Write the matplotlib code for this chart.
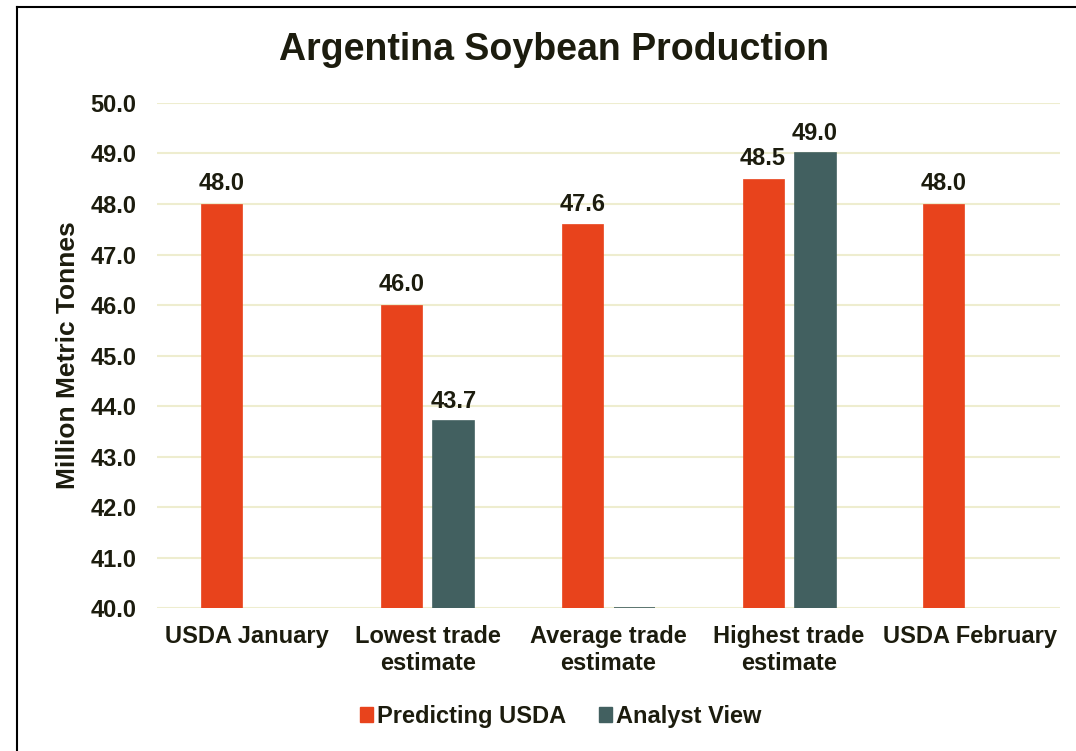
import matplotlib
matplotlib.use("Agg")
import matplotlib.pyplot as plt
from matplotlib.lines import Line2D
from matplotlib.patches import Patch
import numpy as np

categories = ["USDA January", "Lowest trade\nestimate", "Average trade\nestimate",
              "Highest trade\nestimate", "USDA February"]
predicting_usda = [48.0, 46.0, 47.6, 48.5, 48.0]
analyst_view = [None, 43.7, 40.0, 49.0, None]
pred_labels = ["48.0", "46.0", "47.6", "48.5", "48.0"]
analyst_labels = [None, "43.7", None, "49.0", None]
yticks = [40.0, 41.0, 42.0, 43.0, 44.0, 45.0, 46.0, 47.0, 48.0, 49.0, 50.0]

RED = "#E8431C"
GREY = "#426060"
TXT = "#1c1c0e"
GRID = "#EEEDCF"
FS = 17

plt.rcParams['font.family'] = ['Liberation Sans', 'DejaVu Sans']
plt.rcParams['font.weight'] = 'bold'

fig = plt.figure(figsize=(10.76, 7.51), dpi=100)
ax = fig.add_axes([0.146, 0.190, 0.839, 0.673])

x = np.arange(len(categories))
w = 0.227
off = 0.144
base = 40.0

for i, v in enumerate(predicting_usda):
    ax.bar(x[i] - off, v - base, width=w, bottom=base, color=RED, edgecolor=RED, linewidth=0.5, zorder=3)
    ax.text(x[i] - off, v + 0.17, pred_labels[i], ha='center', va='bottom', fontsize=FS,
            fontweight='bold', color=TXT)
for i, v in enumerate(analyst_view):
    if v is None:
        continue
    ax.bar(x[i] + off, v - base, width=w, bottom=base, color=GREY, edgecolor=GREY, linewidth=1.2, zorder=3)
    if analyst_labels[i]:
        ax.text(x[i] + off, v + 0.17, analyst_labels[i], ha='center', va='bottom', fontsize=FS,
                fontweight='bold', color=TXT)

ax.set_xlim(-0.5, 4.5)
ax.set_ylim(40, 50)
ax.set_yticks(yticks)
ax.set_yticklabels([f"{t:.1f}" for t in yticks], fontsize=FS, fontweight='bold', color=TXT)
ax.set_xticks(x)
ax.set_xticklabels(categories, fontsize=FS, fontweight='bold', color=TXT, linespacing=1.22)
ax.tick_params(axis='x', length=0, pad=12)
ax.tick_params(axis='y', length=0, pad=15)
for s in ax.spines.values():
    s.set_visible(False)
ax.yaxis.grid(True, color=GRID, linewidth=1.5, zorder=0)
ax.set_axisbelow(True)
ax.set_ylabel("Million Metric Tonnes", fontsize=19, fontweight='bold', color=TXT, labelpad=7)

fig.text(0.515, 0.933, "Argentina Soybean Production", ha='center', va='center',
         fontsize=27, fontweight='bold', color=TXT)

handles = [Patch(facecolor=RED, edgecolor=RED), Patch(facecolor=GREY, edgecolor=GREY)]
fig.legend(handles, ["Predicting USDA", "Analyst View"], loc='center', bbox_to_anchor=(0.521, 0.046),
           ncol=2, frameon=False, prop={'size': FS, 'weight': 'bold'}, handlelength=0.55,
           handleheight=0.55, handletextpad=0.15, columnspacing=1.4, labelcolor=TXT)

fig.add_artist(Line2D([17/1076, 17/1076], [0, 1 - 7/751], transform=fig.transFigure, color='black', linewidth=1.5))
fig.add_artist(Line2D([17/1076, 1], [1 - 7/751, 1 - 7/751], transform=fig.transFigure, color='black', linewidth=1.5))

fig.savefig("out.png", dpi=100)
